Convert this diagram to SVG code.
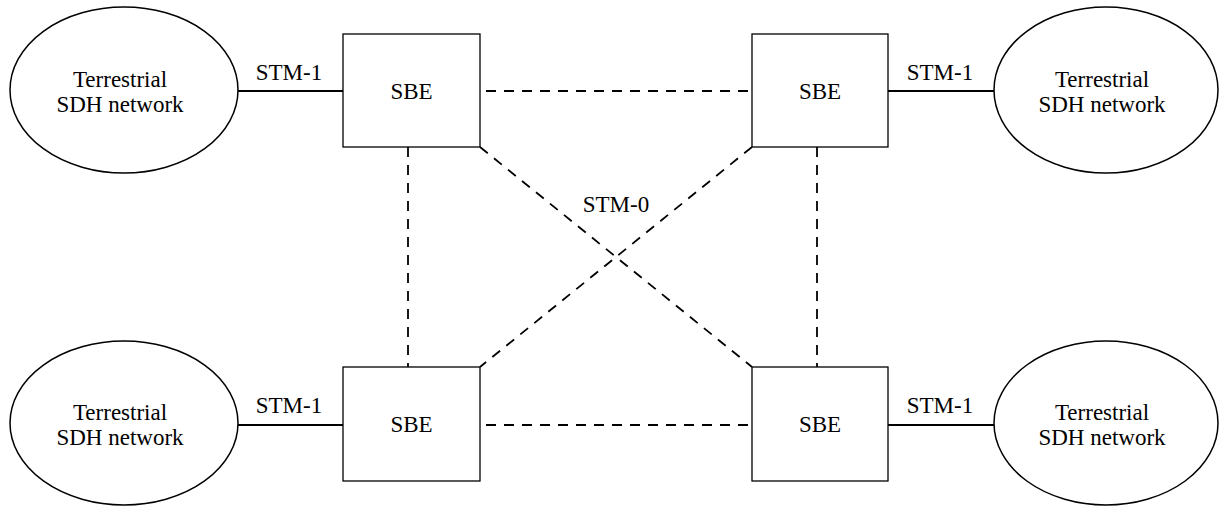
<svg xmlns="http://www.w3.org/2000/svg" width="1219" height="506" viewBox="0 0 1219 506">
<style>
.net{fill:#fff;stroke:#000;stroke-width:1.5}
.box{fill:#fff;stroke:#000;stroke-width:1.3}
.t{font-family:"Liberation Serif","Times New Roman",serif;font-size:23px;fill:#000;text-anchor:middle}
.solid{stroke:#000;stroke-width:2;fill:none}
.dash{stroke:#000;stroke-width:1.8;fill:none;stroke-dasharray:10 8}
</style>
<g id="connectors">
<line class="solid" x1="238" y1="91" x2="343" y2="91"/>
<line class="solid" x1="888" y1="91" x2="994" y2="91"/>
<line class="solid" x1="238" y1="425" x2="343" y2="425"/>
<line class="solid" x1="888" y1="425" x2="994" y2="425"/>
<line class="dash" x1="486" y1="91" x2="752" y2="91"/>
<line class="dash" x1="486" y1="425" x2="752" y2="425"/>
<line class="dash" x1="408" y1="147" x2="408" y2="367"/>
<line class="dash" x1="817" y1="147" x2="817" y2="367"/>
<line class="dash" x1="480" y1="147" x2="752" y2="367"/>
<line class="dash" x1="752" y1="147" x2="480" y2="367"/>
<text class="t" x="289" y="80">STM-1</text>
<text class="t" x="940" y="80">STM-1</text>
<text class="t" x="289" y="413">STM-1</text>
<text class="t" x="940" y="413">STM-1</text>
<text class="t" x="616" y="212">STM-0</text>
</g>
<g id="net-tl">
<ellipse class="net" cx="124" cy="90" rx="114" ry="83"/>
<text class="t" x="120" y="87">Terrestrial</text>
<text class="t" x="120" y="112">SDH network</text>
</g>
<g id="net-tr">
<ellipse class="net" cx="1106" cy="90" rx="112" ry="83"/>
<text class="t" x="1102" y="87">Terrestrial</text>
<text class="t" x="1102" y="112">SDH network</text>
</g>
<g id="net-bl">
<ellipse class="net" cx="124" cy="423" rx="114" ry="82"/>
<text class="t" x="120" y="420">Terrestrial</text>
<text class="t" x="120" y="445">SDH network</text>
</g>
<g id="net-br">
<ellipse class="net" cx="1106" cy="423" rx="112" ry="82"/>
<text class="t" x="1102" y="420">Terrestrial</text>
<text class="t" x="1102" y="445">SDH network</text>
</g>
<g id="sbe-tl">
<rect class="box" x="343" y="34" width="137" height="113"/>
<text class="t" x="411.5" y="99">SBE</text>
</g>
<g id="sbe-tr">
<rect class="box" x="752" y="34" width="136" height="113"/>
<text class="t" x="820" y="99">SBE</text>
</g>
<g id="sbe-bl">
<rect class="box" x="343" y="367" width="137" height="114"/>
<text class="t" x="411.5" y="432">SBE</text>
</g>
<g id="sbe-br">
<rect class="box" x="752" y="367" width="136" height="114"/>
<text class="t" x="820" y="432">SBE</text>
</g>
</svg>
